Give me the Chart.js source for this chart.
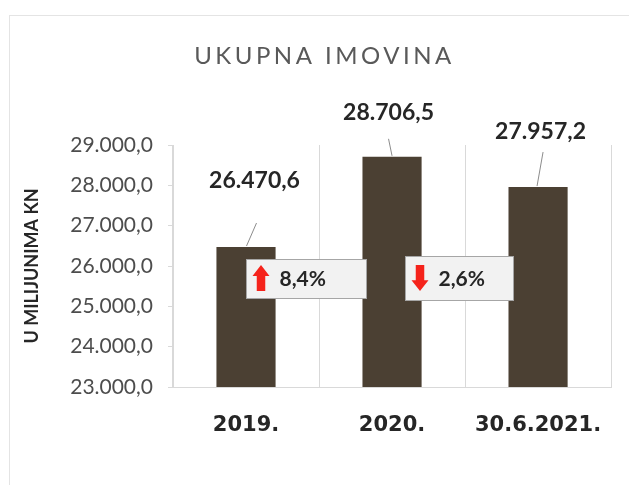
<!DOCTYPE html>
<html>
<head>
<meta charset="utf-8">
<title>Ukupna imovina</title>
<script src="https://cdn.jsdelivr.net/npm/chart.js@4.4.1/dist/chart.umd.min.js"></script>
<style>
    html, body { margin: 0; padding: 0; background: #fff; }
    canvas { display: block; }
</style>
</head>
<body>
<canvas id="mainChart" width="629" height="485"></canvas>
<script>
// --- DATA ---
const categories = ['2019.', '2020.', '30.6.2021.'];
const totalAssets = [26470.6, 28706.5, 27957.2];   // u milijunima kn
const changes = [8.4, -2.6];                       // % promjena izmedu stupaca
const yMin = 23000;
const yMax = 29000;
const yStep = 1000;

// --- FORMATTING ---
function formatHr(n, decimals) {
    let parts = n.toFixed(decimals).split('.');
    parts[0] = parts[0].replace(/\B(?=(\d{3})+(?!\d))/g, '.');
    return parts.join(',');
}

function drawArrow(ctx, x, y, w, h, up) {
    const head = h * 0.42;
    const shaft = w * 0.5;
    ctx.beginPath();
    if (up) {
        ctx.moveTo(x + w / 2, y);
        ctx.lineTo(x + w, y + head);
        ctx.lineTo(x + w / 2 + shaft / 2, y + head);
        ctx.lineTo(x + w / 2 + shaft / 2, y + h);
        ctx.lineTo(x + w / 2 - shaft / 2, y + h);
        ctx.lineTo(x + w / 2 - shaft / 2, y + head);
        ctx.lineTo(x, y + head);
    } else {
        ctx.moveTo(x + w / 2, y + h);
        ctx.lineTo(x + w, y + h - head);
        ctx.lineTo(x + w / 2 + shaft / 2, y + h - head);
        ctx.lineTo(x + w / 2 + shaft / 2, y);
        ctx.lineTo(x + w / 2 - shaft / 2, y);
        ctx.lineTo(x + w / 2 - shaft / 2, y + h - head);
        ctx.lineTo(x, y + h - head);
    }
    ctx.closePath();
    ctx.fill();
}

// --- PLUGIN: frame, value labels with leader lines, change callouts ---
const decorations = {
    id: 'decorations',
    beforeDraw(chart) {
        const ctx = chart.ctx;
        ctx.save();
        ctx.fillStyle = '#ffffff';
        ctx.fillRect(0, 0, chart.width, chart.height);
        ctx.strokeStyle = '#e4e4e4';
        ctx.lineWidth = 1;
        ctx.strokeRect(9.5, 15.5, chart.width, chart.height);
        ctx.restore();

        // spaced-out title like the original
        const tb = chart.titleBlock;
        if (tb && !tb._spaced) {
            const orig = tb.draw;
            tb.draw = function () {
                const c = this.ctx;
                c.save();
                c.letterSpacing = '3.5px';
                orig.apply(this, arguments);
                c.restore();
            };
            tb._spaced = true;
        }
    },
    afterDatasetsDraw(chart, args, opts) {
        const ctx = chart.ctx;
        const meta = chart.getDatasetMeta(0);
        const xs = chart.scales.x;
        const ys = chart.scales.y;
        ctx.save();

        meta.data.forEach((bar, i) => {
            const p = opts.labels[i];
            ctx.strokeStyle = '#8c8c8c';
            ctx.lineWidth = 1;
            ctx.beginPath();
            ctx.moveTo(bar.x + p.line[0], bar.y + p.line[1]);
            ctx.lineTo(bar.x + p.line[2], bar.y + p.line[3]);
            ctx.stroke();

            ctx.fillStyle = '#262626';
            ctx.font = 'bold 23px Lato';
            ctx.textAlign = 'center';
            ctx.textBaseline = 'middle';
            ctx.fillText(formatHr(totalAssets[i], 1), bar.x + p.dx, bar.y + p.dy);
        });

        changes.forEach((c, i) => {
            const b = opts.callouts[i];
            const cx = xs.getPixelForValue(i + 0.5) + b.dx;
            const cy = ys.getPixelForValue(b.yValue);
            const left = Math.round(cx - b.w / 2) + 0.5;
            const top = Math.round(cy - b.h / 2) + 0.5;

            ctx.fillStyle = '#f2f2f2';
            ctx.strokeStyle = '#a6a6a6';
            ctx.lineWidth = 1;
            ctx.fillRect(left, top, b.w, b.h);
            ctx.strokeRect(left, top, b.w, b.h);

            ctx.fillStyle = '#f5231b';
            drawArrow(ctx, left + 6, cy - 13, 17, 26, c >= 0);

            ctx.fillStyle = '#262626';
            ctx.font = 'bold 21px Lato';
            ctx.textAlign = 'left';
            ctx.textBaseline = 'middle';
            ctx.fillText(formatHr(Math.abs(c), 1) + '%', left + 33, cy + 1);
        });

        ctx.restore();
    }
};

const ctx = document.getElementById('mainChart').getContext('2d');
const mainChart = new Chart(ctx, {
    type: 'bar',
    data: {
        labels: categories,
        datasets: [{
            label: 'Ukupna imovina',
            data: totalAssets,
            backgroundColor: '#4b4033',
            barPercentage: 0.405,
            categoryPercentage: 1
        }]
    },
    plugins: [decorations],
    options: {
        responsive: false,
        animation: false,
        layout: { padding: { left: 31, right: 11, top: 0, bottom: 0 } },
        plugins: {
            legend: { display: false },
            tooltip: { enabled: false },
            title: {
                display: true,
                text: 'UKUPNA IMOVINA',
                color: '#595959',
                font: { family: 'Lato', weight: 'normal', size: 24, lineHeight: 1.2 },
                padding: { top: 42, bottom: 74.2 }
            },
            decorations: {
                labels: [
                    { dx: 8.5, dy: -66, line: [10.5, -24, 0.5, -1] },
                    { dx: -3.5, dy: -44, line: [-3.5, -18, 0, -1] },
                    { dx: 2.5, dy: -55, line: [5, -35, -1, -1] }
                ],
                callouts: [
                    { dx: -13, yValue: 25700, w: 120, h: 39 },
                    { dx: -6, yValue: 25700, w: 108, h: 44 }
                ]
            }
        },
        scales: {
            x: {
                afterFit(scale) { scale.height = 98; },
                grid: { color: '#d9d9d9', drawTicks: false, offset: true },
                border: { color: '#d9d9d9' },
                ticks: {
                    color: '#262626',
                    padding: 26,
                    font: { family: 'DejaVu Sans', weight: 'bold', size: 21 }
                }
            },
            y: {
                min: yMin,
                max: yMax,
                afterFit(scale) { scale.width = 142; },
                grid: { color: '#d9d9d9', drawOnChartArea: false, drawTicks: true, tickLength: 5 },
                border: { color: '#d9d9d9' },
                ticks: {
                    stepSize: yStep,
                    color: '#4d4d4d',
                    padding: 15,
                    font: { family: 'Lato', size: 21 },
                    callback: v => formatHr(v, 1)
                },
                title: {
                    display: true,
                    text: 'U MILIJUNIMA KN',
                    color: '#262626',
                    padding: { top: -10, bottom: 0 },
                    font: { family: 'Lato', weight: 'bold', size: 18, lineHeight: 1.2 }
                }
            }
        }
    }
});
</script>
</body>
</html>
